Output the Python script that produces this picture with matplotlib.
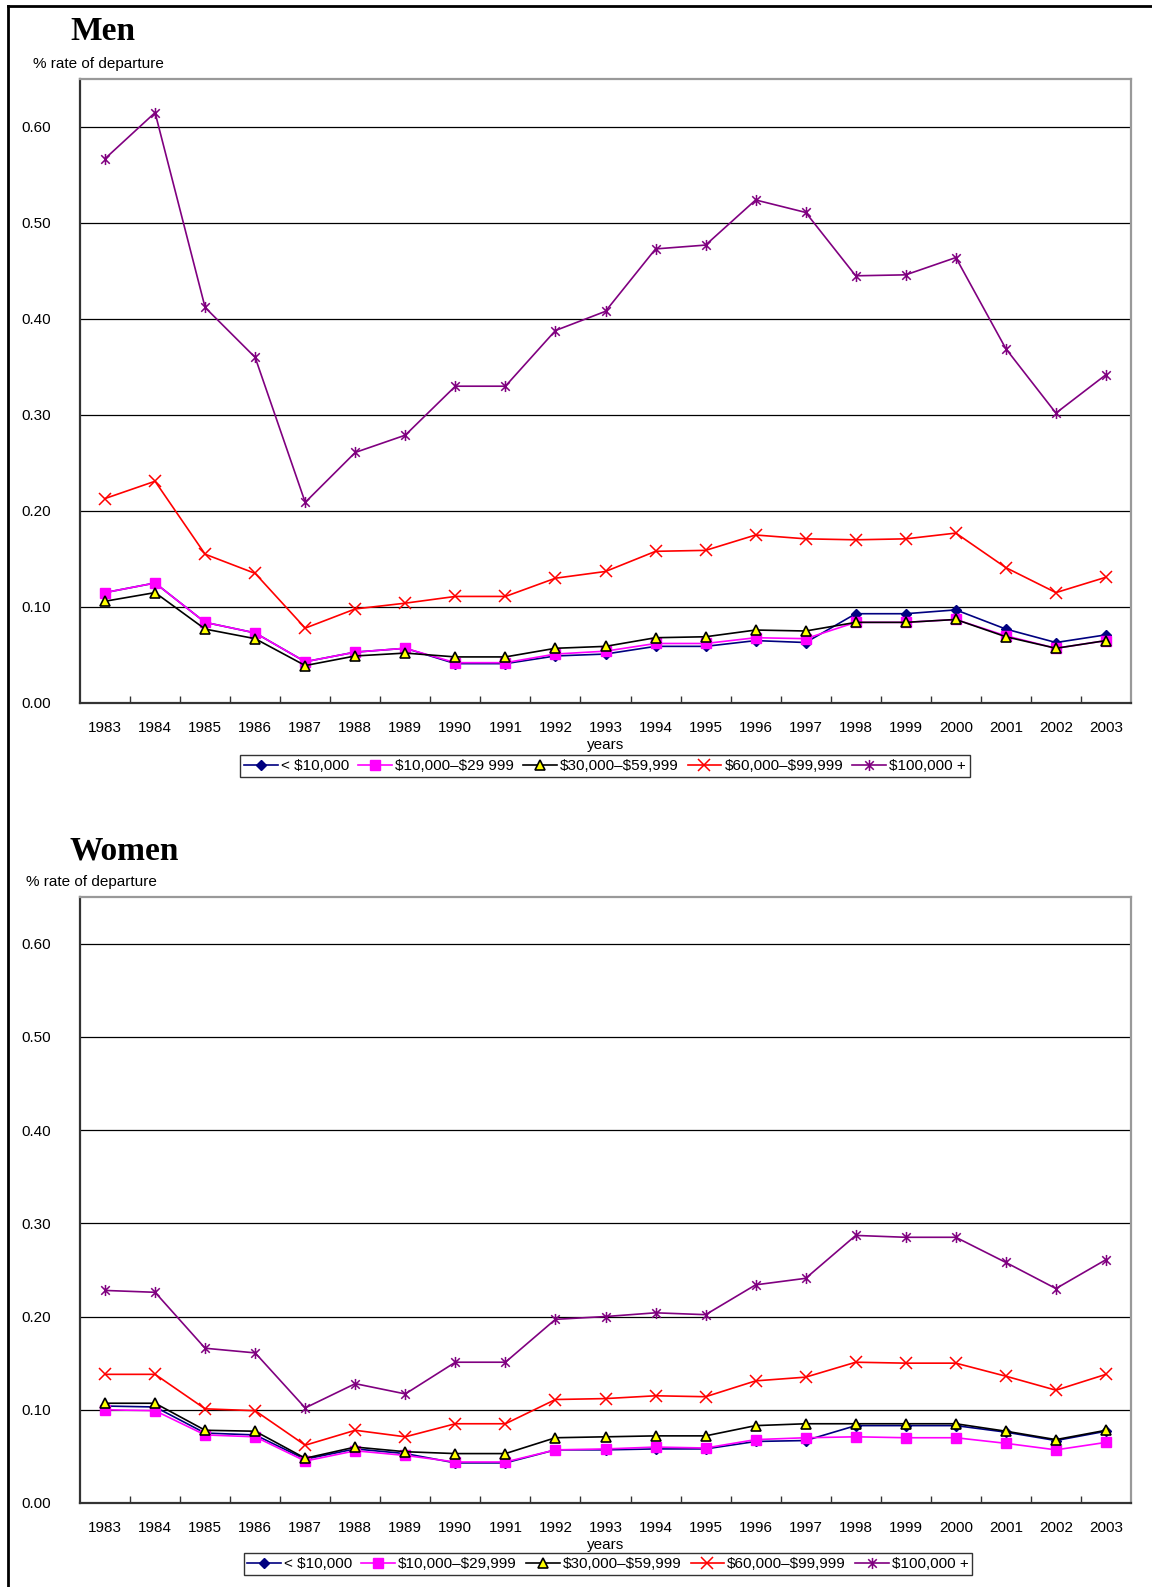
import matplotlib
matplotlib.use("Agg")
import matplotlib.pyplot as plt
from matplotlib.lines import Line2D
from matplotlib.path import Path
import numpy as np

years = list(range(1983, 2004))

# Men, % rate of departure by income group
men_under_10k = [0.115, 0.125, 0.084, 0.073, 0.043, 0.053, 0.057, 0.041, 0.041, 0.049, 0.051,
                 0.059, 0.059, 0.065, 0.063, 0.093, 0.093, 0.097, 0.077, 0.063, 0.071]
men_10k_30k = [0.115, 0.125, 0.084, 0.073, 0.043, 0.053, 0.057, 0.042, 0.042, 0.051, 0.054,
               0.062, 0.062, 0.068, 0.067, 0.084, 0.084, 0.087, 0.070, 0.057, 0.065]
men_30k_60k = [0.106, 0.115, 0.077, 0.067, 0.039, 0.049, 0.052, 0.048, 0.048, 0.057, 0.059,
               0.068, 0.069, 0.076, 0.075, 0.084, 0.084, 0.087, 0.069, 0.057, 0.065]
men_60k_100k = [0.213, 0.231, 0.155, 0.135, 0.078, 0.098, 0.104, 0.111, 0.111, 0.130, 0.137,
                0.158, 0.159, 0.175, 0.171, 0.170, 0.171, 0.177, 0.141, 0.115, 0.131]
men_100k_plus = [0.567, 0.615, 0.412, 0.360, 0.209, 0.261, 0.279, 0.330, 0.330, 0.388, 0.408,
                 0.473, 0.477, 0.524, 0.511, 0.445, 0.446, 0.464, 0.369, 0.302, 0.342]

# Women, % rate of departure by income group
women_under_10k = [0.104, 0.103, 0.075, 0.073, 0.047, 0.058, 0.053, 0.043, 0.043, 0.057, 0.057,
                   0.058, 0.058, 0.066, 0.067, 0.083, 0.083, 0.083, 0.076, 0.067, 0.077]
women_10k_30k = [0.100, 0.099, 0.073, 0.071, 0.045, 0.056, 0.051, 0.044, 0.044, 0.057, 0.058,
                 0.060, 0.059, 0.068, 0.070, 0.071, 0.070, 0.070, 0.064, 0.057, 0.065]
women_30k_60k = [0.107, 0.107, 0.078, 0.077, 0.048, 0.060, 0.055, 0.053, 0.053, 0.070, 0.071,
                 0.072, 0.072, 0.083, 0.085, 0.085, 0.085, 0.085, 0.077, 0.068, 0.078]
women_60k_100k = [0.138, 0.138, 0.101, 0.099, 0.062, 0.078, 0.071, 0.085, 0.085, 0.111, 0.112,
                  0.115, 0.114, 0.131, 0.135, 0.151, 0.150, 0.150, 0.136, 0.121, 0.138]
women_100k_plus = [0.228, 0.226, 0.166, 0.161, 0.102, 0.128, 0.117, 0.151, 0.151, 0.197, 0.200,
                   0.204, 0.202, 0.234, 0.241, 0.287, 0.285, 0.285, 0.258, 0.230, 0.261]

men_labels = ["< \\$10,000", "\\$10,000–\\$29 999", "\\$30,000–\\$59,999",
              "\\$60,000–\\$99,999", "\\$100,000 +"]
women_labels = ["< \\$10,000", "\\$10,000–\\$29,999", "\\$30,000–\\$59,999",
                "\\$60,000–\\$99,999", "\\$100,000 +"]

yticks = [0.0, 0.1, 0.2, 0.3, 0.4, 0.5, 0.6]

plt.rcParams["font.family"] = ["Liberation Sans", "DejaVu Sans"]
plt.rcParams["font.size"] = 11

# asterisk marker: an x with a vertical stroke through it
star = Path([(-1, -1), (1, 1), (-1, 1), (1, -1), (0, -1.3), (0, 1.3)],
            [Path.MOVETO, Path.LINETO, Path.MOVETO, Path.LINETO, Path.MOVETO, Path.LINETO])

styles = [
    dict(color="#000080", marker="D", markersize=5.5, markerfacecolor="#000080", markeredgecolor="#000080"),
    dict(color="#FF00FF", marker="s", markersize=7, markerfacecolor="#FF00FF", markeredgecolor="#FF00FF"),
    dict(color="black", marker="^", markersize=7.5, markerfacecolor="#FFFF00", markeredgecolor="black",
         markeredgewidth=1.2),
    dict(color="#FF0000", marker="x", markersize=8, markeredgecolor="#FF0000", markeredgewidth=1.1),
    dict(color="#800080", marker=star, markersize=8, markerfacecolor="none", markeredgecolor="#800080",
         markeredgewidth=1.1),
]

W, H = 1152, 1587
fig = plt.figure(figsize=(W / 100, H / 100), dpi=100)


def px_rect(left, top, right, bottom):
    return [left / W, 1 - bottom / H, (right - left) / W, (bottom - top) / H]


def draw_panel(rect, series, labels, title, title_xy, ylabel_xy, legend_xy):
    ax = fig.add_axes(px_rect(*rect))
    for values, label, style in zip(series, labels, styles):
        ax.plot(years, values, linewidth=1.2, label=label, **style)

    ax.set_xlim(years[0] - 0.5, years[-1] + 0.5)
    ax.set_ylim(0, 0.65)
    ax.set_yticks(yticks)
    ax.set_yticklabels([f"{v:.2f}" for v in yticks])
    ax.set_xticks(years)
    ax.set_xticklabels([str(y) for y in years])
    ax.set_xticks(np.arange(years[0] + 0.5, years[-1], 1.0), minor=True)
    ax.tick_params(axis="x", which="major", length=0, pad=13, labelsize=11)
    ax.tick_params(axis="x", which="minor", direction="in", length=5, width=1, color="#333333")
    ax.tick_params(axis="y", length=0, pad=21, labelsize=11)
    ax.grid(axis="y", color="black", linewidth=0.9)
    ax.set_axisbelow(True)

    for side in ("left", "bottom"):
        ax.spines[side].set_color("#333333")
        ax.spines[side].set_linewidth(1.6)
    for side in ("top", "right"):
        ax.spines[side].set_color("#999999")
        ax.spines[side].set_linewidth(1.6)

    ax.set_xlabel("years", fontsize=11, labelpad=2)

    fig.text(title_xy[0] / W, 1 - title_xy[1] / H, title, family="Liberation Serif",
             fontweight="bold", fontsize=24, ha="left", va="baseline")
    fig.text(ylabel_xy[0] / W, 1 - ylabel_xy[1] / H, "% rate of departure", fontsize=11,
             ha="left", va="center")

    handles = [Line2D([], [], linewidth=1.2, **s) for s in styles]
    leg = ax.legend(handles, labels, loc="center", ncol=5,
                    bbox_to_anchor=(legend_xy[0] / W, 1 - legend_xy[1] / H),
                    bbox_transform=fig.transFigure, frameon=True, fancybox=False,
                    handlelength=2.2, handletextpad=0.2, columnspacing=0.6,
                    borderpad=0.25, fontsize=11)
    leg.get_frame().set_edgecolor("black")
    leg.get_frame().set_linewidth(1.0)
    return ax


draw_panel((80, 79, 1131, 703), [men_under_10k, men_10k_30k, men_30k_60k, men_60k_100k, men_100k_plus],
           men_labels, "Men", (70, 40), (33, 64), (605, 766))
draw_panel((80, 897, 1131, 1503), [women_under_10k, women_10k_30k, women_30k_60k, women_60k_100k,
                                   women_100k_plus],
           women_labels, "Women", (70, 860), (26, 882), (608, 1564))

# page frame lines along the top and left edges
fig.add_artist(Line2D([8 / W, 1], [1 - 6 / H, 1 - 6 / H], transform=fig.transFigure, color="black", linewidth=2))
fig.add_artist(Line2D([8 / W, 8 / W], [0, 1 - 6 / H], transform=fig.transFigure, color="black", linewidth=2))

fig.savefig("out.png", dpi=100)
